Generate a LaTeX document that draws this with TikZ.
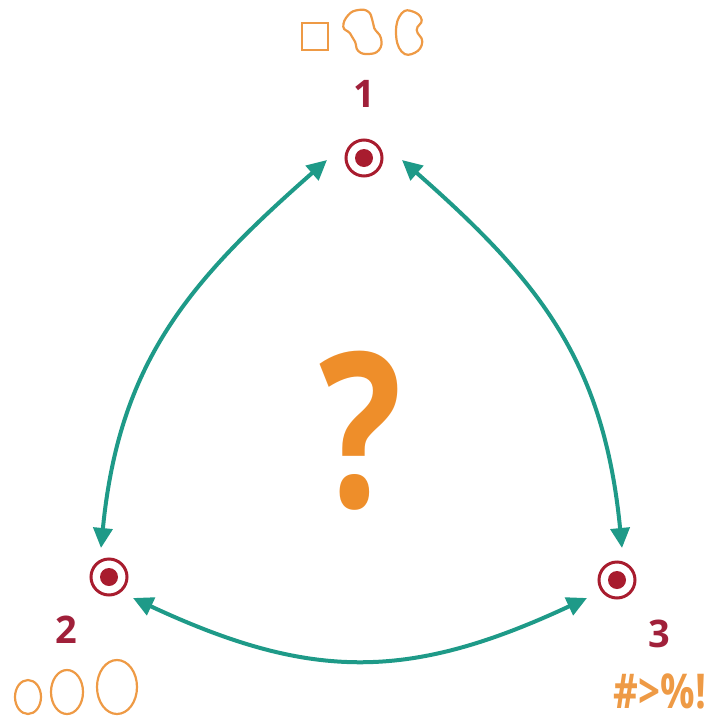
\documentclass[tikz,border=0pt]{standalone}
\usepackage{fontspec}
\newfontfamily\osfont{Open Sans}
\usetikzlibrary{arrows.meta}
\definecolor{teal1}{HTML}{1E9A88}
\definecolor{ringred}{HTML}{A81C2E}
\definecolor{labred}{HTML}{A0203A}
\definecolor{qorange}{HTML}{EE8E2A}
\definecolor{shorange}{HTML}{EE9A45}
\tikzset{
  ring/.style={circle, draw=ringred, line width=3pt, minimum size=36pt, inner sep=0pt,
    path picture={\fill[ringred] (path picture bounding box.center) circle (9pt);}},
  conn/.style={draw=teal1, line width=4pt, {Triangle[length=20pt,width=19pt]}-{Triangle[length=20pt,width=19pt]}},
  numlabel/.style={text=labred, font=\osfont\bfseries\fontsize{38}{38}\selectfont, inner sep=0pt},
  shapeline/.style={draw=shorange, line width=2.2pt},
}
\begin{document}
\begin{tikzpicture}[x=1pt,y=-1pt]
\useasboundingbox (0,0) rectangle (708,718);
% nodes
\node[ring] (n1) at (364,158) {};
\node[ring] (n2) at (109,577) {};
\node[ring] (n3) at (617,580) {};
% labels
\node[numlabel] (l1) at (364,94) {1};
\node[numlabel] (l2) at (66,630) {2};
\node[numlabel] (l3) at (659,634) {3};
% question mark
\node[text=qorange, font=\osfont\bfseries\fontsize{216}{216}\selectfont, inner sep=0pt, anchor=base] (q) at (361,507) {\scalebox{0.8}[1]{?}};
% symbols
\node[text=shorange, font=\osfont\bfseries\fontsize{48}{48}\selectfont, inner sep=0pt, anchor=base] (sym) at (660,708) {\scalebox{0.8}[1]{\#>\%!}};
% connectors
\draw[conn] ([shift={(-37,2)}]n1.center) .. controls (188,282) and (119,363) .. ([shift={(-8,-29)}]n2.center);
\draw[conn] ([shift={(38,2)}]n1.center) .. controls (541,282) and (604,363) .. ([shift={(5,-32)}]n3.center);
\draw[conn] ([shift={(24,21)}]n2.center) .. controls (311,681) and (409,681) .. ([shift={(-30,18)}]n3.center);
% top shapes
\draw[shapeline] (302,23) rectangle (328,50);
\draw[shapeline] plot[smooth cycle, tension=0.8] coordinates {(358.3,10) (368.3,11.7) (372.3,20) (374.3,28.3) (381,38.3) (379,50) (368.3,54) (358.3,51) (355,41.7) (350,33.3) (343.3,26.7) (348.3,15)};
\draw[shapeline] plot[smooth cycle, tension=0.8] coordinates {(413.3,11.7) (421.7,20) (416.7,30) (422.3,41.7) (415,52.7) (401.7,51.7) (396,31.7) (401.7,13.3)};
% bottom ellipses
\draw[shapeline] (28,697) ellipse [x radius=13, y radius=17];
\draw[shapeline] (67,692) ellipse [x radius=16, y radius=22];
\draw[shapeline] (117,687) ellipse [x radius=20, y radius=27];
\end{tikzpicture}
\end{document}
